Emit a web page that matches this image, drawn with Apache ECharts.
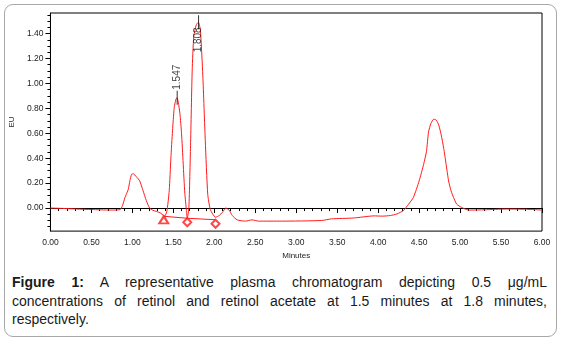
<!DOCTYPE html>
<html><head><meta charset="utf-8">
<script src="https://cdn.jsdelivr.net/npm/echarts@6/dist/echarts.min.js"></script>
<style>
html,body{margin:0;padding:0;background:#fff}
body{width:562px;height:340px;overflow:hidden;position:relative;font-family:"Liberation Sans",Arial,sans-serif}
#frame{position:absolute;left:4px;top:4px;width:553px;height:333px;border:1px solid #a8a8a8;border-radius:9px;box-sizing:border-box}
#chart{position:absolute;left:0;top:0;width:562px;height:265px}
#cap{position:absolute;left:12px;top:273px;width:535px;font-size:14px;line-height:18.5px;color:#1a1a1a}
#cap .j2{text-align:justify;text-align-last:justify}
</style></head>
<body>
<div id="frame"></div>
<div id="chart"></div>
<div id="cap">
<div class="j2"><b>Figure 1:</b> A representative plasma chromatogram depicting 0.5 μg/mL</div>
<div class="j2">concentrations of retinol and retinol acetate at 1.5 minutes at 1.8 minutes,</div>
<div>respectively.</div>
</div>
<script>
// retention time (minutes) and detector response (EU)
var times  = [0.00,0.15,0.32,0.50,0.73,0.85,0.88,0.91,0.95,0.97,0.99,1.01,1.05,1.09,1.13,1.17,1.21,1.25,1.29,1.35,1.39,
              1.42,1.45,1.47,1.49,1.51,1.53,1.545,1.56,1.58,1.60,1.62,1.64,1.66,1.67,
              1.69,1.71,1.73,1.75,1.78,1.805,1.83,1.86,1.89,1.92,1.95,1.98,2.015,
              2.06,2.10,2.14,2.18,2.22,2.28,2.38,2.46,2.54,2.82,3.31,3.43,3.70,3.95,4.05,4.15,4.23,4.31,4.37,4.43,
              4.50,4.555,4.59,4.615,4.645,4.68,4.71,4.74,4.77,4.80,4.83,4.86,4.89,4.92,4.96,5.02,5.08,5.12,5.30,5.56,5.81,6.00];
var signal = [0.000,-0.003,-0.008,-0.012,-0.016,-0.013,0.020,0.085,0.150,0.220,0.270,0.275,0.250,0.217,0.140,0.060,0.000,-0.018,-0.026,-0.042,-0.068,
              -0.030,0.140,0.400,0.620,0.800,0.870,0.885,0.850,0.760,0.600,0.360,0.120,-0.020,-0.082,
              0.005,0.500,1.100,1.380,1.470,1.490,1.430,1.060,0.540,0.110,-0.010,-0.048,-0.074,
              -0.060,-0.034,0.000,-0.016,-0.060,-0.095,-0.105,-0.095,-0.105,-0.105,-0.100,-0.087,-0.080,-0.063,-0.065,-0.060,-0.047,-0.020,0.030,0.085,
              0.217,0.350,0.455,0.610,0.680,0.713,0.705,0.665,0.586,0.480,0.350,0.217,0.138,0.085,0.030,0.005,-0.013,-0.016,-0.014,-0.008,-0.010,-0.016];
// integration baseline (start / valley / end)
var baseTimes  = [1.383, 1.670, 2.015];
var baseValues = [-0.066, -0.082, -0.094];
var baseSymbols = ['emptyTriangle', 'emptyDiamond', 'emptyDiamond'];
// labelled peaks
var peakTimes   = [1.547, 1.808];
var peakHeights = [0.885, 1.490];
var peakLabels  = ['1.547', '1.808'];
// axis ticks
var xMin = 0, xMax = 6, xStep = 0.5;
var yMin = -0.185, yMax = 1.565;
var yMajor = [0.00, 0.20, 0.40, 0.60, 0.80, 1.00, 1.20, 1.40];
var yMinor = [-0.15,-0.10,-0.05,0.05,0.10,0.15,0.25,0.30,0.35,0.45,0.50,0.55,0.65,0.70,0.75,0.85,0.90,0.95,1.05,1.10,1.15,1.25,1.30,1.35,1.45,1.50,1.55];

var trace = times.map(function (t, i) { return [t, signal[i]]; });
var base = baseTimes.map(function (t, i) { return [t, baseValues[i]]; });
// label offsets are in the rotated text frame: +x moves the text up the page
var labelOffsets = [[8, 0], [-30, 0]];

var chart = echarts.init(document.getElementById('chart'), null, {renderer: 'canvas'});
var font = '"Liberation Sans", Arial, sans-serif';
chart.setOption({
  animation: false,
  backgroundColor: 'transparent',
  grid: {left: 46, right: 20, top: 13, bottom: 31, show: true, borderColor: '#000', borderWidth: 1, backgroundColor: 'transparent'},
  xAxis: {
    type: 'value', min: xMin, max: xMax, interval: xStep,
    name: 'Minutes', nameLocation: 'middle', nameGap: 20,
    nameTextStyle: {fontSize: 8, color: '#222', fontFamily: font},
    axisLine: {lineStyle: {color: '#000', width: 1}},
    axisTick: {length: 5, lineStyle: {color: '#000'}},
    minorTick: {show: true, splitNumber: 5, length: 3, lineStyle: {color: '#000'}},
    axisLabel: {margin: 7, fontSize: 8.5, color: '#222', fontFamily: font, formatter: function (v) { return v.toFixed(2); }},
    splitLine: {show: false}
  },
  yAxis: [{
    type: 'value', min: yMin, max: yMax,
    name: 'EU', nameLocation: 'middle', nameGap: 27, nameRotate: 90,
    nameTextStyle: {fontSize: 8, color: '#222', fontFamily: font},
    axisLine: {show: true, lineStyle: {color: '#000', width: 1}},
    axisTick: {show: true, length: 5, customValues: yMajor, lineStyle: {color: '#000'}},
    axisLabel: {margin: 7, fontSize: 8.5, color: '#222', fontFamily: font, customValues: yMajor,
                formatter: function (v) { return v.toFixed(2); }},
    splitLine: {show: false}
  }, {
    type: 'value', min: yMin, max: yMax, position: 'left',
    axisLine: {show: false},
    axisTick: {show: true, length: 3, customValues: yMinor, lineStyle: {color: '#000'}},
    axisLabel: {show: false},
    splitLine: {show: false}
  }],
  series: [{
    type: 'line', data: trace, showSymbol: false, smooth: 0.2, z: 3,
    lineStyle: {color: '#ff1a1a', width: 1}
  }, {
    type: 'line', data: base, showSymbol: false, z: 2,
    lineStyle: {color: '#ff1a1a', width: 1}
  }, {
    type: 'scatter', z: 4,
    data: base.map(function (p, i) {
      return {value: p, symbol: baseSymbols[i], symbolSize: i === 0 ? [9, 7] : [8, 8], symbolOffset: i === 0 ? [0, 3.5] : [0, 4]};
    }),
    itemStyle: {color: '#ff1a1a', borderWidth: 1}
  }, {
    type: 'scatter', z: 5, symbol: 'rect', symbolSize: [1, 14],
    itemStyle: {color: '#000'},
    data: peakTimes.map(function (t, i) {
      return {value: [t, peakHeights[i]],
              label: {show: true, formatter: peakLabels[i], position: 'inside', rotate: 90, align: 'left', verticalAlign: 'middle',
                      offset: labelOffsets[i], color: '#111', fontSize: 10, fontFamily: font}};
    })
  }]
});
</script>
</body></html>
